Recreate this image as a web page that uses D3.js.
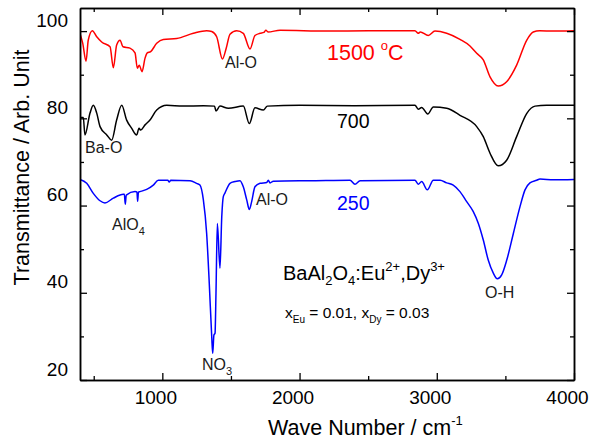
<!DOCTYPE html>
<html>
<head>
<meta charset="utf-8">
<script src="https://cdn.jsdelivr.net/npm/d3@7"></script>
<style>
  html, body { margin: 0; padding: 0; background: #fff; }
  svg { display: block; }
  text { font-family: "Liberation Sans", Arial, sans-serif; }
</style>
</head>
<body>
<svg id="chart" width="592" height="443"></svg>
<script>
// ---- data (wave number cm^-1, transmittance) ----
const spectrum1500 = [
  [400, 99.4], [420, 97.2], [444, 93.1], [460, 97.9], [490, 100.1], [522, 98.7], [558, 97.5],
  [619, 96.4], [643, 91.6], [667, 96.8], [692, 97.9], [713, 96.4], [764, 96.1], [801, 95.0],
  [818, 91.5], [832, 92.2], [852, 90.7], [874, 93.8], [890, 95.0], [915, 95.3], [959, 97.2],
  [1007, 98.1], [1105, 98.3], [1226, 99.5], [1323, 100.1], [1360, 99.9], [1396, 98.7],
  [1438, 93.6], [1465, 96.0], [1493, 99.3], [1542, 100.1], [1590, 99.5], [1639, 95.9],
  [1675, 99.0], [1712, 99.5], [1740, 99.7], [1755, 100.2], [1770, 99.8], [1858, 100.2],
  [2200, 100.0], [2500, 100.1], [2841, 100.1], [2865, 99.5], [2880, 99.8], [2938, 99.0],
  [2987, 100.0], [3072, 99.5], [3169, 98.1], [3242, 96.6], [3291, 94.9], [3339, 93.4],
  [3388, 89.5], [3448, 87.4], [3509, 88.4], [3582, 92.2], [3655, 97.9], [3703, 99.8],
  [3750, 100.1], [3850, 100.0], [4000, 100.1]
];
const spectrum700 = [
  [400, 80.2], [424, 80.2], [436, 76.2], [473, 81.2], [497, 83.0], [522, 81.2], [546, 78.1],
  [595, 76.2], [631, 75.0], [667, 79.6], [704, 83.0], [740, 79.6], [777, 77.7], [813, 76.2],
  [830, 77.7], [842, 77.3], [874, 78.5], [910, 79.6], [959, 81.9], [1032, 83.0], [1150, 82.8],
  [1300, 82.9], [1380, 82.8], [1391, 81.7], [1420, 82.8], [1481, 82.3], [1590, 82.8],
  [1634, 78.8], [1675, 82.4], [1736, 81.9], [1765, 82.8], [2000, 83.0], [2400, 82.9],
  [2841, 83.0], [2865, 82.1], [2890, 82.5], [2934, 81.0], [2975, 82.6], [3072, 82.3],
  [3169, 80.7], [3291, 78.1], [3339, 75.8], [3388, 72.0], [3448, 69.1], [3509, 70.4],
  [3582, 75.8], [3655, 81.1], [3716, 82.8], [3800, 83.0], [4000, 83.0]
];
const spectrum250 = [
  [400, 66.0], [449, 65.1], [497, 62.8], [546, 61.1], [582, 60.6], [643, 61.7], [716, 62.6],
  [723, 62.6], [730, 60.3], [737, 62.4], [801, 63.2], [815, 63.1], [820, 61.0], [826, 63.1],
  [837, 63.2], [886, 63.7], [934, 64.7], [971, 65.8], [1040, 65.8], [1050, 65.4], [1062, 65.8],
  [1202, 65.7], [1250, 65.1], [1274, 64.7], [1299, 61.3], [1323, 53.6], [1342, 42.2],
  [1360, 29.9], [1367, 26.1], [1376, 30.3], [1384, 30.7], [1391, 39.9], [1401, 55.9],
  [1420, 45.6], [1433, 57.4], [1444, 62.0], [1457, 62.9], [1493, 65.1], [1530, 65.5],
  [1566, 65.7], [1590, 64.3], [1615, 61.3], [1634, 59.1], [1651, 60.9], [1675, 64.3],
  [1712, 65.1], [1761, 65.3], [1772, 65.8], [1785, 65.2], [1809, 65.6], [2100, 65.7],
  [2368, 65.8], [2404, 64.9], [2441, 65.7], [2841, 65.8], [2865, 64.9], [2890, 65.5],
  [2931, 63.6], [2975, 65.8], [3024, 65.8], [3072, 65.2], [3120, 64.7], [3169, 63.2],
  [3218, 60.9], [3266, 58.6], [3303, 55.9], [3339, 52.1], [3375, 47.5], [3412, 44.5],
  [3441, 43.2], [3473, 44.1], [3510, 47.5], [3558, 53.6], [3606, 59.7], [3643, 63.6],
  [3679, 65.2], [3728, 65.8], [3752, 66.1], [3850, 65.9], [4000, 66.0]
];
const xMajorTicks = [1000, 2000, 3000, 4000];
const xMinorTicks = [500, 1500, 2500, 3500];
const yMajorTicks = [20, 40, 60, 80, 100];
const yMinorTicks = [30, 50, 70, 90];

// ---- layout ----
const svg = d3.select("#chart");
const W = 592, H = 443;
const m = { left: 80, top: 8, right: 18, bottom: 63 };
const iw = W - m.left - m.right, ih = H - m.top - m.bottom;

const x = d3.scaleLinear().domain([400, 4000]).range([0, iw]);
const y = d3.scaleLinear().domain([20, 105.3]).range([ih, 0]);

const g = svg.append("g").attr("transform", `translate(${m.left},${m.top})`);

svg.append("defs").append("clipPath").attr("id", "clip")
  .append("rect").attr("width", iw).attr("height", ih);

// ---- curves ----
const line = d3.line().x(d => x(d[0])).y(d => y(d[1])).curve(d3.curveMonotoneX);
const series = [
  { data: spectrum1500, color: "#ff0000" },
  { data: spectrum700, color: "#000000" },
  { data: spectrum250, color: "#0000ff" }
];
const plot = g.append("g").attr("clip-path", "url(#clip)");
series.forEach(s => {
  plot.append("path").datum(s.data)
    .attr("fill", "none").attr("stroke", s.color)
    .attr("stroke-width", 1.5).attr("stroke-linejoin", "round")
    .attr("d", line);
});

// ---- axes ----
const fmt = d3.format("d");
function styleAxis(sel) {
  sel.select(".domain").attr("stroke", "#000").attr("stroke-width", 1.5);
  sel.selectAll(".tick line").attr("stroke", "#000").attr("stroke-width", 1.3);
  sel.selectAll("text").attr("font-family", "Liberation Sans, Arial, sans-serif")
    .attr("font-size", 19).attr("fill", "#000");
}
// bottom
const xb = g.append("g").attr("transform", `translate(0,${ih})`)
  .call(d3.axisBottom(x).tickValues(xMajorTicks).tickFormat(fmt).tickSize(-7).tickPadding(11).tickSizeOuter(0));
styleAxis(xb);
xb.selectAll("text").attr("dx", -7);
g.append("g").attr("transform", `translate(0,${ih})`)
  .call(d3.axisBottom(x).tickValues(xMinorTicks).tickSize(-4).tickFormat("").tickSizeOuter(0))
  .call(styleAxis);
// top
g.append("g")
  .call(d3.axisTop(x).tickValues(xMajorTicks).tickSize(-7).tickFormat("").tickSizeOuter(0))
  .call(styleAxis);
g.append("g")
  .call(d3.axisTop(x).tickValues(xMinorTicks).tickSize(-4).tickFormat("").tickSizeOuter(0))
  .call(styleAxis);
// left
const yl = g.append("g")
  .call(d3.axisLeft(y).tickValues(yMajorTicks).tickFormat(fmt).tickSize(-7).tickPadding(12).tickSizeOuter(0));
styleAxis(yl);
yl.selectAll("text").attr("y", -11);
g.append("g")
  .call(d3.axisLeft(y).tickValues(yMinorTicks).tickSize(-4).tickFormat("").tickSizeOuter(0))
  .call(styleAxis);
// right
g.append("g").attr("transform", `translate(${iw},0)`)
  .call(d3.axisRight(y).tickValues(yMajorTicks).tickSize(-7).tickFormat("").tickSizeOuter(0))
  .call(styleAxis);
g.append("g").attr("transform", `translate(${iw},0)`)
  .call(d3.axisRight(y).tickValues(yMinorTicks).tickSize(-4).tickFormat("").tickSizeOuter(0))
  .call(styleAxis);

// ---- axis titles ----
const xt = svg.append("text").attr("x", 268).attr("y", 435)
  .attr("font-size", 21.5).attr("fill", "#000");
xt.append("tspan").text("Wave Number / cm");
xt.append("tspan").attr("font-size", 13).attr("dy", -10).text("-1");

svg.append("text")
  .attr("transform", "translate(29,167.5) rotate(-90)")
  .attr("text-anchor", "middle").attr("font-size", 21.5).attr("fill", "#000")
  .text("Transmittance / Arb. Unit");

// ---- annotations ----
function label(px, py, size, color, parts) {
  const t = svg.append("text").attr("x", px).attr("y", py)
    .attr("font-size", size).attr("fill", color);
  let shift = 0;
  parts.forEach(p => {
    const target = p.sub ? p.sub : (p.sup ? -p.sup : 0);
    const ts = t.append("tspan").attr("dy", target - shift).text(p.t);
    if (p.size) ts.attr("font-size", p.size);
    shift = target;
  });
  return t;
}
label(327, 60, 21.5, "#ff0000", [{ t: "1500 " }, { t: "o", size: 13, sup: 10 }, { t: "C" }]);
label(337, 128, 19.5, "#000", [{ t: "700" }]);
label(337, 210, 19.5, "#0000ff", [{ t: "250" }]);

label(225, 68, 16, "#1a1a1a", [{ t: "Al-O" }]);
label(85, 153, 16, "#1a1a1a", [{ t: "Ba-O" }]);
label(112, 230, 16, "#1a1a1a", [{ t: "AlO" }, { t: "4", size: 11, sub: 5 }]);
label(256, 205, 16, "#1a1a1a", [{ t: "Al-O" }]);
label(202, 370, 16, "#1a1a1a", [{ t: "NO" }, { t: "3", size: 11, sub: 5 }]);
label(485, 298, 16, "#1a1a1a", [{ t: "O-H" }]);

label(283, 280, 20, "#000", [
  { t: "BaAl" }, { t: "2", size: 13, sub: 5 }, { t: "O" }, { t: "4", size: 13, sub: 5 },
  { t: ":Eu" }, { t: "2+", size: 13, sup: 9 }, { t: ",Dy" }, { t: "3+", size: 13, sup: 9 }
]);
label(285, 318, 15.5, "#000", [
  { t: "x" }, { t: "Eu", size: 10, sub: 5 }, { t: " = 0.01, x" }, { t: "Dy", size: 10, sub: 5 },
  { t: " = 0.03" }
]);
</script>
</body>
</html>
